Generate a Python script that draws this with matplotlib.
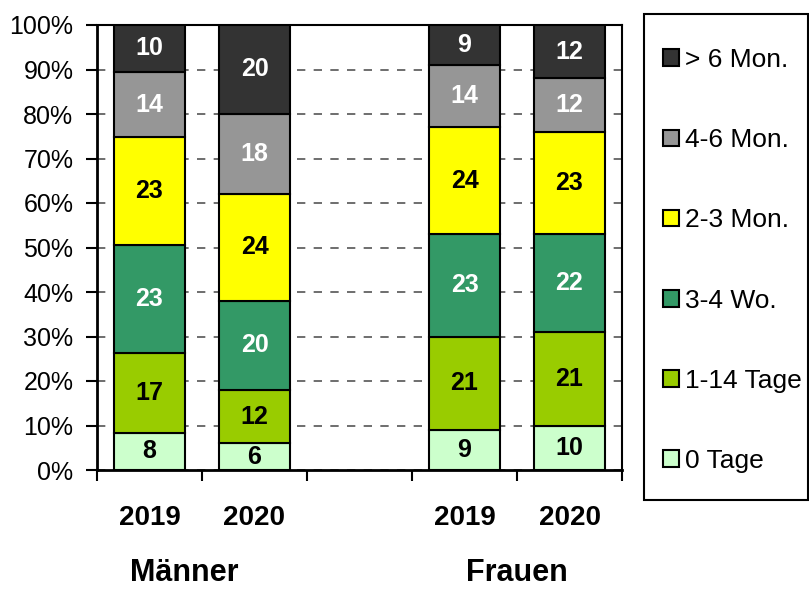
import numpy as np
import matplotlib.pyplot as plt
from matplotlib.patches import Patch, Rectangle
from matplotlib.ticker import PercentFormatter

plt.rcParams['font.family'] = ['Liberation Sans', 'DejaVu Sans']

# Anteile in % je Dauer (Männer 2019, Männer 2020, Frauen 2019, Frauen 2020)
jahre = ['2019', '2020', '2019', '2020']
gruppen = ['Männer', 'Frauen']
kategorien = ['0 Tage', '1-14 Tage', '3-4 Wo.', '2-3 Mon.', '4-6 Mon.', '> 6 Mon.']
werte = {
    '0 Tage':    [8, 6, 9, 10],
    '1-14 Tage': [17, 12, 21, 21],
    '3-4 Wo.':   [23, 20, 23, 22],
    '2-3 Mon.':  [23, 24, 24, 23],
    '4-6 Mon.':  [14, 18, 14, 12],
    '> 6 Mon.':  [10, 20, 9, 12],
}
farben = ['#CCFFCC', '#99CC00', '#339966', '#FFFF00', '#969696', '#333333']
textfarben = ['black', 'black', 'white', 'black', 'white', 'white']

# Positionen: zwei Balken, eine Lücke, zwei Balken
pos = np.array([0.5, 1.5, 3.5, 4.5])

daten = np.array([werte[k] for k in kategorien], dtype=float)
summe = daten.sum(axis=0)
anteil = daten / summe * 100

W, H = 809, 589
fig = plt.figure(figsize=(W / 100, H / 100), dpi=100)
ax = fig.add_axes([97 / W, 1 - 470 / H, 525 / W, 445 / H])

unten = np.zeros(len(pos))
for i, k in enumerate(kategorien):
    ax.bar(pos, anteil[i], bottom=unten, width=0.67, color=farben[i],
           edgecolor='black', linewidth=1.5, zorder=3)
    for x, b, h, v in zip(pos, unten, anteil[i], daten[i]):
        ax.text(x, b + h / 2, f'{int(v)}', ha='center', va='center',
                fontsize=18, fontweight='bold', color=textfarben[i], zorder=4)
    unten += anteil[i]

ax.set_xlim(0, 5)
ax.set_ylim(0, 100)
ax.set_yticks(np.arange(0, 101, 10))
ax.yaxis.set_major_formatter(PercentFormatter(decimals=0))
ax.tick_params(axis='y', labelsize=18, length=8, width=1.5, direction='out', pad=9)

ax.set_xticks(np.arange(0, 6))
ax.set_xticklabels([])
ax.set_xticks(pos, minor=True)
ax.set_xticklabels(jahre, minor=True)
ax.tick_params(axis='x', which='major', length=8, width=1.5, direction='out')
ax.tick_params(axis='x', which='minor', length=0, labelsize=20, pad=25)
for lab in ax.get_xticklabels(minor=True):
    lab.set_fontweight('bold')

ax.yaxis.grid(True, linestyle=(0, (5, 5)), color='#555555', linewidth=1.2, zorder=0)
ax.set_axisbelow(True)
for s in ['left', 'bottom']:
    ax.spines[s].set_linewidth(2)
for s in ['top', 'right']:
    ax.spines[s].set_linewidth(1.5)

# Gruppenbeschriftung unter den Jahren
trans = ax.get_xaxis_transform()
ax.text(0.83, -0.249, gruppen[0], transform=trans, ha='center', va='baseline',
        fontsize=22, fontweight='bold')
ax.text(4.0, -0.249, gruppen[1], transform=trans, ha='center', va='baseline',
        fontsize=22, fontweight='bold')

# Legendenrahmen separat, damit Breite und Höhe frei wählbar sind
fig.patches.append(Rectangle((644 / W, 1 - 500 / H), 164 / W, 486 / H,
                             transform=fig.transFigure, facecolor='none',
                             edgecolor='black', linewidth=1.5))
griffe = [Patch(facecolor=f, edgecolor='black', linewidth=1.5) for f in farben]
leg = fig.legend(griffe[::-1], kategorien[::-1], loc='upper left',
                 bbox_to_anchor=(663 / W, 1 - 48 / H), fontsize=19,
                 frameon=False, handlelength=0.6, handleheight=0.6,
                 handletextpad=0.25, labelspacing=2.13, borderpad=0,
                 borderaxespad=0)

fig.savefig('out.png', dpi=100)
